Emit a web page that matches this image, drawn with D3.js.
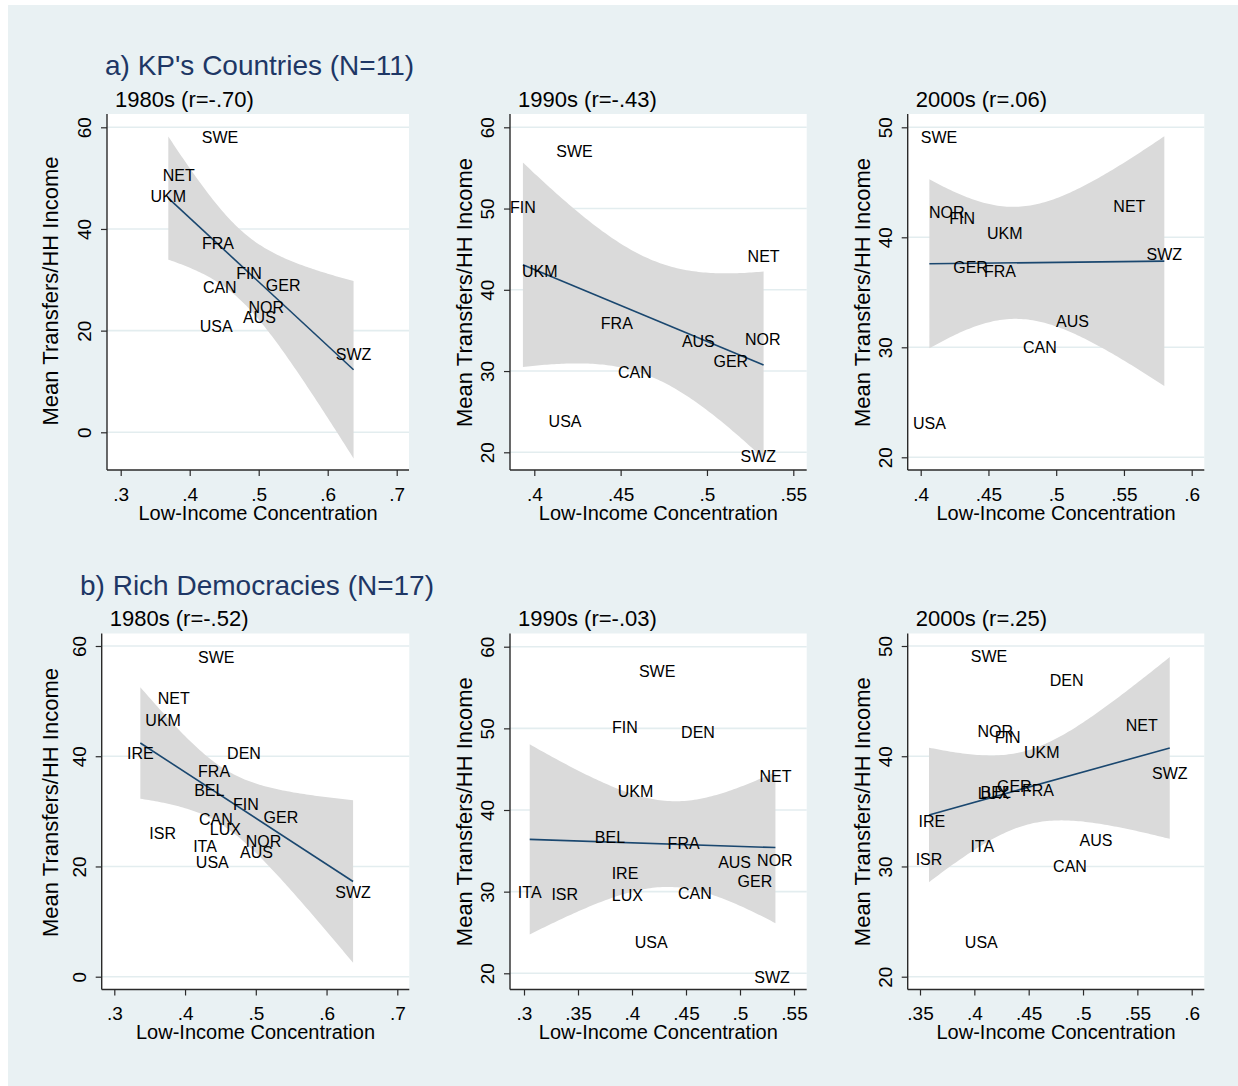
<!DOCTYPE html>
<html><head><meta charset="utf-8">
<script src="https://cdn.jsdelivr.net/npm/d3@7"></script>
<style>
body{margin:0;background:#fff}
svg{display:block}
text{font-family:"Liberation Sans",Arial,Helvetica,sans-serif}
</style>
</head><body>
<svg id="c" width="1238" height="1086"></svg>
<script>
// ---------------- DATA ----------------
const countries = ["SWE","NET","UKM","FRA","FIN","GER","CAN","NOR","AUS","USA","SWZ","IRE","DEN","BEL","LUX","ISR","ITA"];
const kpCountries = ["SWE","NET","UKM","FRA","FIN","GER","CAN","NOR","AUS","USA","SWZ"];

const conc1980 = [0.444,0.384,0.369,0.441,0.486,0.5355,0.4436,0.511,0.501,0.4385,0.6375,0.3368,0.4833,0.4343,0.4569,0.3684,0.4282];
const trans1980 = [58.0,50.5,46.5,37.2,31.3,29.0,28.5,24.6,22.6,20.8,15.4,40.6,40.6,33.9,26.7,26.1,23.6];

const conc1990 = [0.4233,0.5328,0.4032,0.4478,0.3934,0.5138,0.4583,0.5323,0.495,0.4178,0.5297,0.3935,0.4611,0.3796,0.3957,0.3377,0.3053];
const trans1990 = [57.05,44.1,42.25,35.9,50.1,31.25,29.8,33.9,33.65,23.8,19.5,32.3,49.5,36.7,29.6,29.7,29.9];

const conc2000 = [0.4135,0.554,0.462,0.4585,0.4306,0.4368,0.488,0.4193,0.512,0.4064,0.5798,0.361,0.485,0.4197,0.4175,0.3583,0.4073];
const trans2000 = [49.1,42.8,40.35,36.95,41.75,37.25,30.05,42.25,32.4,23.1,38.45,34.07,46.86,36.7,36.6,30.7,31.8];

const groupTitles = ["a) KP's Countries (N=11)", "b) Rich Democracies (N=17)"];
const panelSubtitles = [
  ["1980s (r=-.70)","1990s (r=-.43)","2000s (r=.06)"],
  ["1980s (r=-.52)","1990s (r=-.03)","2000s (r=.25)"]
];
const xTicks = [
  [[.3,.4,.5,.6,.7],[.4,.45,.5,.55],[.4,.45,.5,.55,.6]],
  [[.3,.4,.5,.6,.7],[.3,.35,.4,.45,.5,.55],[.35,.4,.45,.5,.55,.6]]
];
const yTicks = [
  [[0,20,40,60],[20,30,40,50,60],[20,30,40,50]],
  [[0,20,40,60],[20,30,40,50,60],[20,30,40,50]]
];
const xTitle = "Low-Income Concentration";
const yTitle = "Mean Transfers/HH Income";

// ---------------- LAYOUT ----------------
const layout = [
  [
    {x0:107,x1:409,y0:114,y1:470, px:[120.7,396.7], py:[432.3,127.3], ytx:57.5, yty:291},
    {x0:510,x1:806.7,y0:114,y1:470, px:[534.3,793.3], py:[452.3,127.3], ytx:471.7, yty:292.5},
    {x0:907.7,x1:1204.3,y0:114,y1:470, px:[920.7,1191.7], py:[457.3,127.3], ytx:870, yty:292.5}
  ],
  [
    {x0:101.7,x1:409.3,y0:633.5,y1:989.5, px:[114.3,397.3], py:[976.7,646], ytx:58.3, yty:802.5},
    {x0:510,x1:806.7,y0:633.5,y1:989.5, px:[524,794], py:[973.3,646.7], ytx:472.3, yty:811.7},
    {x0:907.7,x1:1204.3,y0:633.5,y1:989.5, px:[920,1191.7], py:[976.7,646], ytx:870, yty:811.7}
  ]
];
const titlePos = [{x:105,y:75},{x:80,y:595}];
const xTitleY = [520,1039];

const BG = "#e9f1f3", GRID = "#e3edef", BAND = "#dadada", LINE = "#1a476f", AXIS = "#2a2a2a", TITLE = "#1e3765";

// ---------------- STATS ----------------
function lgamma(z){
  const g=7, c=[0.99999999999980993,676.5203681218851,-1259.1392167224028,771.32342877765313,-176.61502916214059,12.507343278686905,-0.13857109526572012,9.9843695780195716e-6,1.5056327351493116e-7];
  if(z<0.5) return Math.log(Math.PI/Math.sin(Math.PI*z))-lgamma(1-z);
  z-=1; let x=c[0]; for(let i=1;i<g+2;i++) x+=c[i]/(z+i);
  const t=z+g+0.5; return 0.5*Math.log(2*Math.PI)+(z+0.5)*Math.log(t)-t+Math.log(x);
}
function tpdf(t,nu){return Math.exp(lgamma((nu+1)/2)-lgamma(nu/2)-0.5*Math.log(nu*Math.PI)-(nu+1)/2*Math.log(1+t*t/nu));}
function tcdf(t,nu){const n=400,h=t/n;let s=tpdf(0,nu)+tpdf(t,nu);for(let i=1;i<n;i++)s+=(i%2?4:2)*tpdf(i*h,nu);return 0.5+s*h/3;}
function tinv(p,nu){let lo=0,hi=30;for(let i=0;i<80;i++){const m=(lo+hi)/2;if(tcdf(m,nu)<p)lo=m;else hi=m;}return (lo+hi)/2;}

function fit(xs,ys){
  const n=xs.length, mx=d3.mean(xs), my=d3.mean(ys);
  let sxx=0,sxy=0; xs.forEach((x,i)=>{sxx+=(x-mx)**2;sxy+=(x-mx)*(ys[i]-my);});
  const b=sxy/sxx, a=my-b*mx;
  let sse=0; xs.forEach((x,i)=>{sse+=(ys[i]-a-b*x)**2;});
  const s=Math.sqrt(sse/(n-2)), tq=tinv(0.975,n-2);
  return {f:x=>a+b*x, hw:x=>tq*s*Math.sqrt(1/n+(x-mx)**2/sxx), xmin:d3.min(xs), xmax:d3.max(xs)};
}

// ---------------- DRAW ----------------
const svg=d3.select("#c");
svg.append("rect").attr("x",8).attr("y",5).attr("width",1230).attr("height",1081).attr("fill",BG);

const decades=[[conc1980,trans1980],[conc1990,trans1990],[conc2000,trans2000]];
const fmt=v=>{let s=String(v);return s.startsWith("0.")?s.slice(1):s;};

[0,1].forEach(row=>{
  svg.append("text").attr("x",titlePos[row].x).attr("y",titlePos[row].y)
    .attr("font-size",28).attr("fill",TITLE).text(groupTitles[row]);
  const names = row===0 ? kpCountries : countries;
  decades.forEach(([cx,cy],col)=>{
    const L=layout[row][col];
    const xt=xTicks[row][col], yt=yTicks[row][col];
    const xs=d3.scaleLinear().domain([xt[0],xt[xt.length-1]]).range(L.px);
    const ys=d3.scaleLinear().domain([yt[0],yt[yt.length-1]]).range(L.py);
    const pts=names.map(nm=>{const i=countries.indexOf(nm);return {name:nm,x:cx[i],y:cy[i]};});
    const g=svg.append("g");
    g.append("text").attr("x",L.x0+8).attr("y",row===0?106.7:626).attr("font-size",22).attr("fill","#000")
      .text(panelSubtitles[row][col]);
    g.append("rect").attr("x",L.x0).attr("y",L.y0).attr("width",L.x1-L.x0).attr("height",L.y1-L.y0).attr("fill","#fff");
    g.selectAll(".grid").data(yt).join("line")
      .attr("x1",L.x0).attr("x2",L.x1).attr("y1",d=>ys(d)).attr("y2",d=>ys(d))
      .attr("stroke",GRID).attr("stroke-width",1.6);
    const F=fit(pts.map(p=>p.x),pts.map(p=>p.y));
    const grid=d3.range(0,101).map(i=>F.xmin+(F.xmax-F.xmin)*i/100);
    g.append("path").datum(grid)
      .attr("d",d3.area().x(x=>xs(x)).y0(x=>ys(F.f(x)-F.hw(x))).y1(x=>ys(F.f(x)+F.hw(x))))
      .attr("fill",BAND);
    g.append("path").datum([F.xmin,F.xmax])
      .attr("d",d3.line().x(x=>xs(x)).y(x=>ys(F.f(x))))
      .attr("stroke",LINE).attr("stroke-width",1.6).attr("fill","none");
    g.selectAll(".lab").data(pts).join("text")
      .attr("x",d=>xs(d.x)).attr("y",d=>ys(d.y)).attr("dy","0.36em")
      .attr("text-anchor","middle").attr("font-size",16).attr("fill","#000").text(d=>d.name);
    const yAxis=d3.axisLeft(ys).tickValues(yt).tickSize(6).tickPadding(0).tickFormat(d3.format("d"));
    const ya=g.append("g").attr("transform",`translate(${L.x0},0)`).call(yAxis);
    ya.select(".domain").attr("d",`M0,${L.y0}V${L.y1}`).attr("stroke",AXIS).attr("stroke-width",1.4);
    ya.selectAll(".tick line").attr("stroke",AXIS).attr("stroke-width",1.2);
    ya.selectAll(".tick text").attr("x",0).attr("y",0).attr("dy",0)
      .attr("transform","translate(-16,0) rotate(-90)").attr("text-anchor","middle")
      .attr("font-size",19).attr("fill","#000").attr("font-family",null);
    const xAxis=d3.axisBottom(xs).tickValues(xt).tickSize(6).tickPadding(0).tickFormat(fmt);
    const xa=g.append("g").attr("transform",`translate(0,${L.y1})`).call(xAxis);
    xa.select(".domain").attr("d",`M${L.x0},0H${L.x1}`).attr("stroke",AXIS).attr("stroke-width",1.4);
    xa.selectAll(".tick line").attr("stroke",AXIS).attr("stroke-width",1.2);
    xa.selectAll(".tick text").attr("y",30.5).attr("dy",0).attr("font-size",19).attr("fill","#000").attr("font-family",null);
    g.append("text").attr("x",(L.x0+L.x1)/2).attr("y",xTitleY[row]).attr("text-anchor","middle")
      .attr("font-size",20).attr("fill","#000").text(xTitle);
    g.append("text").attr("transform",`translate(${L.ytx},${L.yty}) rotate(-90)`).attr("text-anchor","middle")
      .attr("font-size",22).attr("fill","#000").text(yTitle);
  });
});
</script>
</body></html>
